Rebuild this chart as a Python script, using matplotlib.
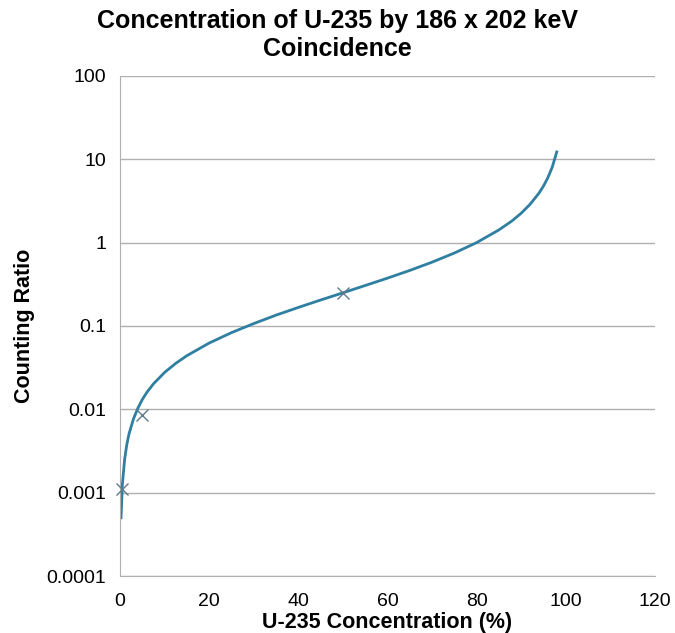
import matplotlib
matplotlib.use("Agg")
import matplotlib.pyplot as plt

plt.rcParams['font.family'] = ['Liberation Sans', 'DejaVu Sans']

# curve
curve_conc = [0.2, 0.5, 1, 1.5, 2, 3, 4, 5, 6, 7.5, 10, 12.5, 15, 20, 25, 30, 35, 40, 45, 50,
              55, 60, 65, 70, 75, 80, 85, 88, 90, 92, 94, 95, 96, 97, 98]
curve_ratio = [0.0005, 0.00126, 0.0025, 0.0038, 0.0051, 0.0077, 0.0104, 0.0132, 0.016, 0.0203,
               0.0278, 0.0357, 0.0441, 0.0625, 0.0833, 0.107, 0.135, 0.167, 0.205, 0.25,
               0.306, 0.375, 0.464, 0.583, 0.75, 1.0, 1.42, 1.83, 2.25, 2.88, 3.92, 4.75,
               6.0, 8.08, 12.25]

# measured points
meas_conc = [0.5, 5, 50]
meas_ratio = [0.0011, 0.0085, 0.25]

fig = plt.figure(figsize=(6.75, 6.33), dpi=100)
ax = fig.add_axes([0.178, 0.090, 0.792, 0.790])

ax.plot(curve_conc, curve_ratio, color='#2e7fa1', lw=2)
ax.plot(meas_conc, meas_ratio, ls='none', marker='x', ms=8, mew=1, color='#607b8b',
        clip_on=False, zorder=3)

ax.set_yscale('log')
ax.set_ylim(0.0001, 100)
ax.set_xlim(0, 120)
ax.set_xticks([0, 20, 40, 60, 80, 100, 120])
ax.set_yticks([0.0001, 0.001, 0.01, 0.1, 1, 10, 100])
ax.set_yticklabels(['0.0001', '0.001', '0.01', '0.1', '1', '10', '100'])
ax.minorticks_off()
ax.tick_params(length=0, labelsize=14)
ax.tick_params(axis='x', pad=12)
ax.tick_params(axis='y', pad=10)
ax.yaxis.grid(True, color='#b0b0b0', lw=1)
ax.set_axisbelow(True)
for s in ['top', 'right']:
    ax.spines[s].set_visible(False)
for s in ['left', 'bottom']:
    ax.spines[s].set_color('#b0b0b0')

ax.set_xlabel('U-235 Concentration (%)', fontsize=15.5, fontweight='bold', labelpad=2)
ax.set_ylabel('Counting Ratio', fontsize=15.5, fontweight='bold', labelpad=8)
fig.suptitle('Concentration of U-235 by 186 x 202 keV\nCoincidence', fontsize=18,
             fontweight='bold', y=0.985, linespacing=1.2)

fig.savefig('out.png', dpi=100)
